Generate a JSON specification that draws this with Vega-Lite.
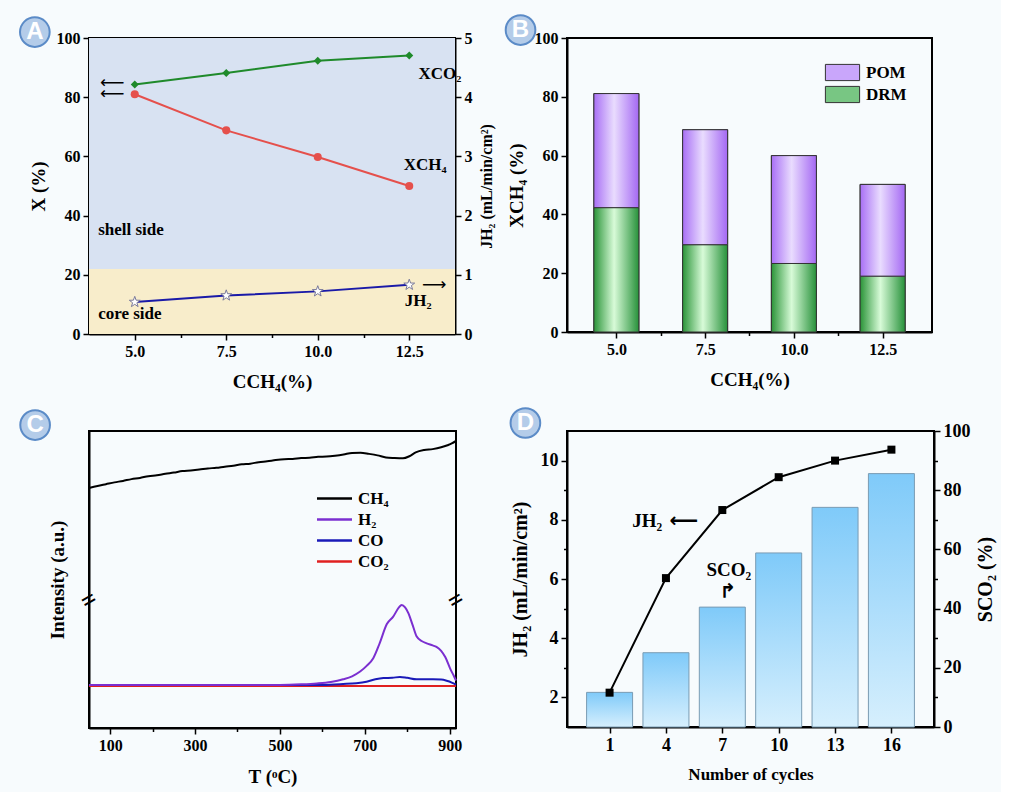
{
  "$schema": "https://vega.github.io/schema/vega-lite/v6.json",
  "background": "#f7fbfd",
  "padding": {"left": 14, "top": 10, "right": 5, "bottom": 5},
  "config": {
    "font": "Liberation Serif",
    "view": {"stroke": "black", "strokeWidth": 2},
    "axis": {
      "grid": false,
      "domainColor": "black",
      "domainWidth": 2,
      "tickColor": "black",
      "tickWidth": 1.5,
      "labelOverlap": false,
      "labelFont": "Liberation Serif",
      "labelFontWeight": "bold",
      "labelFontSize": 16,
      "labelColor": "black",
      "labelPadding": 3,
      "titleFont": "Liberation Serif",
      "titleFontWeight": "bold",
      "titleFontSize": 19,
      "titleColor": "black"
    },
    "legend": {
      "labelFont": "Liberation Serif",
      "labelFontWeight": "bold",
      "labelFontSize": 17,
      "labelColor": "black"
    }
  },
  "datasets": {
    "a_x": [
      {"c": 5, "s": "XCO₂", "v": 84.3},
      {"c": 7.5, "s": "XCO₂", "v": 88.2},
      {"c": 10, "s": "XCO₂", "v": 92.3},
      {"c": 12.5, "s": "XCO₂", "v": 94.1},
      {"c": 5, "s": "XCH₄", "v": 81.0},
      {"c": 7.5, "s": "XCH₄", "v": 68.8},
      {"c": 10, "s": "XCH₄", "v": 59.8},
      {"c": 12.5, "s": "XCH₄", "v": 50.0}
    ],
    "a_j": [
      {"c": 5, "v": 0.54},
      {"c": 7.5, "v": 0.65},
      {"c": 10, "v": 0.72},
      {"c": 12.5, "v": 0.83}
    ],
    "a_text": [
      {"x": 12.75, "y": 88, "t": "XCO₂"},
      {"x": 12.35, "y": 57, "t": "XCH₄"},
      {"x": 12.38, "y": 11.3, "t": "JH₂"},
      {"x": 4.0, "y": 35, "t": "shell side"},
      {"x": 4.0, "y": 6.8, "t": "core side"}
    ],
    "a_arrows": [
      {"x": 12.85, "y": 16.4, "t": "⟶"},
      {"x": 4.05, "y": 84.8, "t": "⟵"},
      {"x": 4.05, "y": 81.2, "t": "⟵"}
    ],
    "b": [
      {"c": 5, "m": "DRM", "v": 42.3},
      {"c": 7.5, "m": "DRM", "v": 29.7},
      {"c": 10, "m": "DRM", "v": 23.3},
      {"c": 12.5, "m": "DRM", "v": 19.0},
      {"c": 5, "m": "POM", "v": 38.8},
      {"c": 7.5, "m": "POM", "v": 39.1},
      {"c": 10, "m": "POM", "v": 36.7},
      {"c": 12.5, "m": "POM", "v": 31.2}
    ],
    "c": [
      {"T": 50, "g": "CH₄", "v": 80.8}, {"T": 70, "g": "CH₄", "v": 81.5}, {"T": 90, "g": "CH₄", "v": 82.1},
      {"T": 110, "g": "CH₄", "v": 82.7}, {"T": 130, "g": "CH₄", "v": 83.2}, {"T": 150, "g": "CH₄", "v": 83.8},
      {"T": 170, "g": "CH₄", "v": 84.2}, {"T": 190, "g": "CH₄", "v": 84.8}, {"T": 210, "g": "CH₄", "v": 85.1},
      {"T": 230, "g": "CH₄", "v": 85.6}, {"T": 250, "g": "CH₄", "v": 86.0}, {"T": 270, "g": "CH₄", "v": 86.5},
      {"T": 290, "g": "CH₄", "v": 86.7}, {"T": 310, "g": "CH₄", "v": 87.0}, {"T": 330, "g": "CH₄", "v": 87.4},
      {"T": 350, "g": "CH₄", "v": 87.6}, {"T": 370, "g": "CH₄", "v": 88.0}, {"T": 390, "g": "CH₄", "v": 88.3},
      {"T": 410, "g": "CH₄", "v": 88.8}, {"T": 430, "g": "CH₄", "v": 89.0}, {"T": 450, "g": "CH₄", "v": 89.5},
      {"T": 470, "g": "CH₄", "v": 89.8}, {"T": 490, "g": "CH₄", "v": 90.2}, {"T": 510, "g": "CH₄", "v": 90.5},
      {"T": 530, "g": "CH₄", "v": 90.6}, {"T": 550, "g": "CH₄", "v": 90.9}, {"T": 570, "g": "CH₄", "v": 91.0},
      {"T": 590, "g": "CH₄", "v": 91.3}, {"T": 610, "g": "CH₄", "v": 91.4}, {"T": 630, "g": "CH₄", "v": 91.7},
      {"T": 650, "g": "CH₄", "v": 92.1}, {"T": 670, "g": "CH₄", "v": 92.6}, {"T": 690, "g": "CH₄", "v": 92.7},
      {"T": 710, "g": "CH₄", "v": 92.3}, {"T": 730, "g": "CH₄", "v": 91.8}, {"T": 750, "g": "CH₄", "v": 91.1},
      {"T": 770, "g": "CH₄", "v": 90.9}, {"T": 790, "g": "CH₄", "v": 90.8}, {"T": 805, "g": "CH₄", "v": 91.5},
      {"T": 820, "g": "CH₄", "v": 92.8}, {"T": 840, "g": "CH₄", "v": 93.6}, {"T": 860, "g": "CH₄", "v": 93.9},
      {"T": 880, "g": "CH₄", "v": 94.5}, {"T": 895, "g": "CH₄", "v": 95.2}, {"T": 905, "g": "CH₄", "v": 95.8},
      {"T": 915, "g": "CH₄", "v": 96.7},
      {"T": 50, "g": "CO₂", "v": 14.1}, {"T": 915, "g": "CO₂", "v": 14.1},
      {"T": 50, "g": "CO", "v": 14.5}, {"T": 600, "g": "CO", "v": 14.5}, {"T": 649, "g": "CO", "v": 14.8},
      {"T": 680, "g": "CO", "v": 15.1}, {"T": 704, "g": "CO", "v": 15.6}, {"T": 725, "g": "CO", "v": 16.4},
      {"T": 744, "g": "CO", "v": 16.8}, {"T": 765, "g": "CO", "v": 16.9}, {"T": 783, "g": "CO", "v": 17.2},
      {"T": 800, "g": "CO", "v": 16.9}, {"T": 822, "g": "CO", "v": 16.4}, {"T": 861, "g": "CO", "v": 16.4},
      {"T": 880, "g": "CO", "v": 16.3}, {"T": 893, "g": "CO", "v": 15.9}, {"T": 905, "g": "CO", "v": 15.3},
      {"T": 915, "g": "CO", "v": 14.6},
      {"T": 50, "g": "H₂", "v": 14.5}, {"T": 500, "g": "H₂", "v": 14.5}, {"T": 550, "g": "H₂", "v": 14.7},
      {"T": 587, "g": "H₂", "v": 15.0}, {"T": 620, "g": "H₂", "v": 15.5}, {"T": 649, "g": "H₂", "v": 16.4},
      {"T": 670, "g": "H₂", "v": 17.4}, {"T": 689, "g": "H₂", "v": 19.0}, {"T": 705, "g": "H₂", "v": 21.0},
      {"T": 720, "g": "H₂", "v": 23.5}, {"T": 735, "g": "H₂", "v": 28.5}, {"T": 752, "g": "H₂", "v": 35.0},
      {"T": 767, "g": "H₂", "v": 37.5}, {"T": 780, "g": "H₂", "v": 40.5}, {"T": 787, "g": "H₂", "v": 41.4},
      {"T": 795, "g": "H₂", "v": 40.6}, {"T": 803, "g": "H₂", "v": 38.6}, {"T": 812, "g": "H₂", "v": 35.0},
      {"T": 822, "g": "H₂", "v": 30.9}, {"T": 835, "g": "H₂", "v": 29.2}, {"T": 846, "g": "H₂", "v": 28.5},
      {"T": 860, "g": "H₂", "v": 27.8}, {"T": 869, "g": "H₂", "v": 27.3}, {"T": 880, "g": "H₂", "v": 26.0},
      {"T": 890, "g": "H₂", "v": 23.8}, {"T": 901, "g": "H₂", "v": 20.1}, {"T": 910, "g": "H₂", "v": 17.5},
      {"T": 915, "g": "H₂", "v": 16.0}
    ],
    "d": [
      {"n": 1, "jh2": 2.16, "sco2": 11.7},
      {"n": 4, "jh2": 6.03, "sco2": 25.1},
      {"n": 7, "jh2": 8.33, "sco2": 40.5},
      {"n": 10, "jh2": 9.44, "sco2": 58.8},
      {"n": 13, "jh2": 10.0, "sco2": 74.2},
      {"n": 16, "jh2": 10.37, "sco2": 85.6}
    ],
    "d_text": [
      {"x": 3.0, "y": 7.95, "t": "JH₂"},
      {"x": 7.35, "y": 6.3, "t": "SCO₂"}
    ],
    "d_arrows": [
      {"x": 4.95, "y": 7.97, "t": "⟵"},
      {"x": 7.3, "y": 5.55, "t": "↱"}
    ]
  },
  "bounds": "flush",
  "columns": 2,
  "spacing": {"row": 97, "column": 111},
  "resolve": {
    "scale": {"color": "independent", "shape": "independent"},
    "legend": {"color": "independent"}
  },
  "concat": [
    {
      "width": 366,
      "height": 296,
      "layer": [
        {
          "layer": [
            {
              "data": {"values": [{}]},
              "mark": {"type": "rect", "fill": "#d8e2f2"},
              "encoding": {
                "x": {
                  "datum": 3.75, "type": "quantitative",
                  "scale": {"domain": [3.75, 13.75], "nice": false, "zero": false},
                  "axis": {
                    "title": "CCH₄(%)", "titlePadding": 13,
                    "values": [5, 6.25, 7.5, 8.75, 10, 11.25, 12.5],
                    "labelExpr": "datum.value % 2.5 === 0 ? format(datum.value, '.1f') : ''",
                    "tickSize": {"condition": {"test": "datum.value % 2.5 !== 0", "value": 3.5}, "value": 6}
                  }
                },
                "x2": {"datum": 13.75},
                "y": {
                  "datum": 22, "type": "quantitative",
                  "scale": {"domain": [0, 100], "nice": false},
                  "axis": {
                    "title": "X (%)", "titlePadding": 8,
                    "values": [0, 10, 20, 30, 40, 50, 60, 70, 80, 90, 100],
                    "labelExpr": "datum.value % 20 === 0 ? datum.label : ''",
                    "tickSize": {"condition": {"test": "datum.value % 20 !== 0", "value": 3.5}, "value": 6}
                  }
                },
                "y2": {"datum": 100}
              }
            },
            {
              "data": {"values": [{}]},
              "mark": {"type": "rect", "fill": "#f8edcb"},
              "encoding": {
                "x": {"datum": 3.75, "type": "quantitative"},
                "x2": {"datum": 13.75},
                "y": {"datum": 0, "type": "quantitative"},
                "y2": {"datum": 22}
              }
            },
            {
              "data": {"name": "a_x"},
              "mark": {"type": "line", "strokeWidth": 2},
              "encoding": {
                "x": {"field": "c", "type": "quantitative"},
                "y": {"field": "v", "type": "quantitative"},
                "color": {
                  "field": "s", "type": "nominal", "legend": null,
                  "scale": {"domain": ["XCO₂", "XCH₄"], "range": ["#1f8a2b", "#e5504c"]}
                }
              }
            },
            {
              "data": {"name": "a_x"},
              "mark": {"type": "point", "filled": true, "opacity": 1, "size": 65},
              "encoding": {
                "x": {"field": "c", "type": "quantitative"},
                "y": {"field": "v", "type": "quantitative"},
                "color": {"field": "s", "type": "nominal", "legend": null},
                "shape": {
                  "field": "s", "type": "nominal", "legend": null,
                  "scale": {"domain": ["XCO₂", "XCH₄"], "range": ["diamond", "circle"]}
                }
              }
            },
            {
              "data": {"name": "a_text"},
              "mark": {"type": "text", "align": "left", "baseline": "middle", "fontSize": 17, "fontWeight": "bold", "color": "black"},
              "encoding": {
                "x": {"field": "x", "type": "quantitative"},
                "y": {"field": "y", "type": "quantitative"},
                "text": {"field": "t"}
              }
            },
            {
              "data": {"name": "a_arrows"},
              "mark": {"type": "text", "align": "left", "baseline": "middle", "font": "DejaVu Sans", "fontSize": 17, "color": "black"},
              "encoding": {
                "x": {"field": "x", "type": "quantitative"},
                "y": {"field": "y", "type": "quantitative"},
                "text": {"field": "t"}
              }
            },
            {
              "data": {"values": [{}]},
              "mark": {"type": "point", "shape": "circle", "filled": true, "size": 880, "opacity": 1, "fill": "#b4cce9", "stroke": "#5b8bc7", "strokeWidth": 2},
              "encoding": {
                "x": {"datum": 2.27, "type": "quantitative"},
                "y": {"datum": 102, "type": "quantitative"}
              }
            },
            {
              "data": {"values": [{}]},
              "mark": {"type": "text", "text": "A", "font": "Liberation Sans", "fontWeight": "bold", "fontSize": 24, "color": "white", "baseline": "middle", "align": "center"},
              "encoding": {
                "x": {"datum": 2.27, "type": "quantitative"},
                "y": {"datum": 102, "type": "quantitative"}
              }
            }
          ]
        },
        {
          "data": {"name": "a_j"},
          "layer": [
            {
              "mark": {"type": "line", "strokeWidth": 2, "color": "#1a1aa8"},
              "encoding": {
                "x": {"field": "c", "type": "quantitative"},
                "y": {
                  "field": "v", "type": "quantitative",
                  "scale": {"domain": [0, 5], "nice": false},
                  "axis": {
                    "orient": "right", "title": "JH₂ (mL/min/cm²)", "titleFontSize": 16, "titleAngle": 270, "titleBaseline": "top", "titlePadding": 6,
                    "values": [0, 0.5, 1, 1.5, 2, 2.5, 3, 3.5, 4, 4.5, 5],
                    "labelExpr": "datum.value % 1 === 0 ? format(datum.value, 'd') : ''",
                    "tickSize": {"condition": {"test": "datum.value % 1 !== 0", "value": 3.5}, "value": 6}
                  }
                }
              }
            },
            {
              "mark": {"type": "point", "shape": "M0,-1L0.235,-0.324L0.951,-0.309L0.38,0.124L0.588,0.809L0,0.4L-0.588,0.809L-0.38,0.124L-0.951,-0.309L-0.235,-0.324Z", "filled": true, "fill": "white", "stroke": "#7a7a9a", "strokeWidth": 1, "size": 130, "opacity": 1},
              "encoding": {
                "x": {"field": "c", "type": "quantitative"},
                "y": {"field": "v", "type": "quantitative"}
              }
            }
          ]
        }
      ],
      "resolve": {"scale": {"y": "independent"}}
    },
    {
      "width": 365,
      "height": 294,
      "data": {"name": "b"},
      "layer": [
        {
          "mark": {"type": "bar", "width": 45, "stroke": "#333333", "strokeWidth": 1},
          "encoding": {
            "x": {
              "field": "c", "type": "quantitative",
              "scale": {"domain": [3.75, 13.75], "nice": false, "zero": false},
              "axis": {
                "title": "CCH₄(%)", "titlePadding": 13,
                "values": [5, 6.25, 7.5, 8.75, 10, 11.25, 12.5],
                "labelExpr": "datum.value % 2.5 === 0 ? format(datum.value, '.1f') : ''",
                "tickSize": {"condition": {"test": "datum.value % 2.5 !== 0", "value": 3.5}, "value": 6}
              }
            },
            "y": {
              "field": "v", "type": "quantitative", "stack": "zero",
              "scale": {"domain": [0, 100], "nice": false},
              "axis": {
                "title": "XCH₄ (%)", "titlePadding": 8,
                "values": [0, 10, 20, 30, 40, 50, 60, 70, 80, 90, 100],
                "labelExpr": "datum.value % 20 === 0 ? datum.label : ''",
                "tickSize": {"condition": {"test": "datum.value % 20 !== 0", "value": 3.5}, "value": 6}
              }
            },
            "color": {
              "field": "m", "type": "nominal",
              "scale": {"domain": ["POM", "DRM"], "range": ["#c9a6fb", "#78c683"]},
              "legend": {
                "orient": "none", "legendX": 266, "legendY": 25, "title": null,
                "symbolType": "M-1.9,-0.9H1.9V0.9H-1.9Z", "symbolSize": 324,
                "symbolStrokeColor": "#333333", "symbolStrokeWidth": 1, "symbolOpacity": 1,
                "rowPadding": 1, "labelOffset": 14
              }
            },
            "order": {"field": "m", "sort": "ascending"}
          }
        },
        {
          "mark": {"type": "bar", "width": 45, "stroke": "#333333", "strokeWidth": 1},
          "encoding": {
            "x": {"field": "c", "type": "quantitative"},
            "y": {"field": "v", "type": "quantitative", "stack": "zero"},
            "color": {
              "condition": {
                "test": "datum.m === 'POM'",
                "value": {"gradient": "linear", "x1": 0, "y1": 0, "x2": 1, "y2": 0, "stops": [{"offset": 0, "color": "#a86ff5"}, {"offset": 0.45, "color": "#e9dcfe"}, {"offset": 1, "color": "#a468f3"}]}
              },
              "value": {"gradient": "linear", "x1": 0, "y1": 0, "x2": 1, "y2": 0, "stops": [{"offset": 0, "color": "#2a9438"}, {"offset": 0.45, "color": "#d8fbd8"}, {"offset": 1, "color": "#27913a"}]}
            },
            "order": {"field": "m", "sort": "ascending"}
          }
        },
        {
          "data": {"values": [{}]},
          "mark": {"type": "point", "shape": "circle", "filled": true, "size": 880, "opacity": 1, "fill": "#b4cce9", "stroke": "#5b8bc7", "strokeWidth": 2},
          "encoding": {
            "x": {"datum": 2.3, "type": "quantitative"},
            "y": {"datum": 102.7, "type": "quantitative"}
          }
        },
        {
          "data": {"values": [{}]},
          "mark": {"type": "text", "text": "B", "font": "Liberation Sans", "fontWeight": "bold", "fontSize": 24, "color": "white", "baseline": "middle", "align": "center"},
          "encoding": {
            "x": {"datum": 2.3, "type": "quantitative"},
            "y": {"datum": 102.7, "type": "quantitative"}
          }
        }
      ]
    },
    {
      "width": 367,
      "height": 297,
      "layer": [
        {
          "data": {"name": "c"},
          "mark": {"type": "line", "strokeWidth": 2, "interpolate": "monotone"},
          "encoding": {
            "x": {
              "field": "T", "type": "quantitative",
              "scale": {"domain": [50, 915], "nice": false, "zero": false},
              "axis": {
                "title": "T (ᵒC)", "titlePadding": 14,
                "values": [100, 200, 300, 400, 500, 600, 700, 800, 900],
                "labelExpr": "datum.value % 200 !== 0 ? datum.label : ''",
                "tickSize": {"condition": {"test": "datum.value % 200 === 0", "value": 3.5}, "value": 6}
              }
            },
            "y": {
              "field": "v", "type": "quantitative",
              "scale": {"domain": [0, 100], "nice": false},
              "axis": {"title": "Intensity (a.u.)", "labels": false, "ticks": false, "titlePadding": 22}
            },
            "color": {
              "field": "g", "type": "nominal",
              "scale": {"domain": ["CH₄", "H₂", "CO", "CO₂"], "range": ["#000000", "#7b2fd0", "#1a1ab8", "#e02020"]},
              "legend": {
                "orient": "none", "legendX": 234, "legendY": 56, "title": null,
                "symbolType": "M-1.75,0H1.75", "symbolSize": 400, "symbolStrokeWidth": 2.5,
                "rowPadding": 1, "labelOffset": 12
              }
            }
          }
        },
        {
          "data": {"values": [{}]},
          "mark": {"type": "text", "text": "=", "fontSize": 26, "fontWeight": "bold", "angle": 330, "color": "black", "baseline": "middle", "align": "center"},
          "encoding": {
            "x": {"datum": 50, "type": "quantitative"},
            "y": {"datum": 43, "type": "quantitative"}
          }
        },
        {
          "data": {"values": [{}]},
          "mark": {"type": "text", "text": "=", "fontSize": 26, "fontWeight": "bold", "angle": 330, "color": "black", "baseline": "middle", "align": "center"},
          "encoding": {
            "x": {"datum": 915, "type": "quantitative"},
            "y": {"datum": 43, "type": "quantitative"}
          }
        },
        {
          "data": {"values": [{}]},
          "mark": {"type": "point", "shape": "circle", "filled": true, "size": 880, "opacity": 1, "fill": "#b4cce9", "stroke": "#5b8bc7", "strokeWidth": 2},
          "encoding": {
            "x": {"datum": -77, "type": "quantitative"},
            "y": {"datum": 102, "type": "quantitative"}
          }
        },
        {
          "data": {"values": [{}]},
          "mark": {"type": "text", "text": "C", "font": "Liberation Sans", "fontWeight": "bold", "fontSize": 24, "color": "white", "baseline": "middle", "align": "center"},
          "encoding": {
            "x": {"datum": -77, "type": "quantitative"},
            "y": {"datum": 102, "type": "quantitative"}
          }
        }
      ]
    },
    {
      "width": 367,
      "height": 296,
      "layer": [
        {
          "data": {"name": "d"},
          "mark": {"type": "bar", "width": 46, "stroke": "#7a9cb3", "strokeWidth": 1},
          "encoding": {
            "x": {
              "field": "n", "type": "quantitative",
              "scale": {"domain": [-1, 18], "nice": false, "zero": false},
              "axis": {
                "title": "Number of cycles", "titleFontSize": 17, "labelFontSize": 18, "titlePadding": 12,
                "values": [1, 4, 7, 10, 13, 16], "format": "d", "tickSize": 6
              }
            },
            "y": {
              "field": "sco2", "type": "quantitative",
              "scale": {"domain": [0, 100], "nice": false},
              "axis": {
                "orient": "right", "title": "SCO₂ (%)", "titleAngle": 270, "titleBaseline": "top", "labelFontSize": 18, "titleFontSize": 20, "titlePadding": 5,
                "values": [0, 10, 20, 30, 40, 50, 60, 70, 80, 90, 100],
                "labelExpr": "datum.value % 20 === 0 ? datum.label : ''",
                "tickSize": {"condition": {"test": "datum.value % 20 !== 0", "value": 3.5}, "value": 6}
              }
            },
            "color": {"value": {"gradient": "linear", "x1": 0, "y1": 0, "x2": 0, "y2": 1, "stops": [{"offset": 0, "color": "#7fcaf9"}, {"offset": 1, "color": "#d6effd"}]}}
          }
        },
        {
          "data": {"values": [{}]},
          "mark": {"type": "rule", "color": "black", "strokeWidth": 2},
          "encoding": {
            "x": {"datum": -1, "type": "quantitative"},
            "x2": {"datum": 18},
            "y": {"datum": 100, "type": "quantitative", "scale": {"domain": [0, 100], "nice": false}, "axis": null}
          }
        },
        {
          "data": {"values": [{}]},
          "mark": {"type": "point", "shape": "circle", "filled": true, "size": 880, "opacity": 1, "fill": "#b4cce9", "stroke": "#5b8bc7", "strokeWidth": 2},
          "encoding": {
            "x": {"datum": -3.48, "type": "quantitative"},
            "y": {"datum": 102.7, "type": "quantitative", "scale": {"domain": [0, 100], "nice": false}, "axis": null}
          }
        },
        {
          "data": {"values": [{}]},
          "mark": {"type": "text", "text": "D", "font": "Liberation Sans", "fontWeight": "bold", "fontSize": 24, "color": "white", "baseline": "middle", "align": "center"},
          "encoding": {
            "x": {"datum": -3.48, "type": "quantitative"},
            "y": {"datum": 102.7, "type": "quantitative", "scale": {"domain": [0, 100], "nice": false}, "axis": null}
          }
        },
        {
          "data": {"name": "d"},
          "mark": {"type": "line", "strokeWidth": 2, "color": "black"},
          "encoding": {
            "x": {"field": "n", "type": "quantitative"},
            "y": {
              "field": "jh2", "type": "quantitative",
              "scale": {"domain": [1, 11], "nice": false, "zero": false},
              "axis": {
                "orient": "left", "title": "JH₂ (mL/min/cm²)", "labelFontSize": 18, "titleFontSize": 20, "titlePadding": 10,
                "values": [2, 3, 4, 5, 6, 7, 8, 9, 10],
                "labelExpr": "datum.value % 2 === 0 ? datum.label : ''",
                "tickSize": {"condition": {"test": "datum.value % 2 !== 0", "value": 3.5}, "value": 6}
              }
            }
          }
        },
        {
          "data": {"name": "d"},
          "mark": {"type": "point", "shape": "square", "filled": true, "size": 64, "opacity": 1, "color": "black"},
          "encoding": {
            "x": {"field": "n", "type": "quantitative"},
            "y": {"field": "jh2", "type": "quantitative", "scale": {"domain": [1, 11], "nice": false, "zero": false}, "axis": null}
          }
        },
        {
          "data": {"name": "d_text"},
          "mark": {"type": "text", "align": "center", "baseline": "middle", "fontSize": 19, "fontWeight": "bold", "color": "black"},
          "encoding": {
            "x": {"field": "x", "type": "quantitative"},
            "y": {"field": "y", "type": "quantitative", "scale": {"domain": [1, 11], "nice": false, "zero": false}, "axis": null},
            "text": {"field": "t"}
          }
        },
        {
          "data": {"name": "d_arrows"},
          "mark": {"type": "text", "align": "center", "baseline": "middle", "font": "DejaVu Sans", "fontSize": 20, "fontWeight": "bold", "color": "black"},
          "encoding": {
            "x": {"field": "x", "type": "quantitative"},
            "y": {"field": "y", "type": "quantitative", "scale": {"domain": [1, 11], "nice": false, "zero": false}, "axis": null},
            "text": {"field": "t"}
          }
        }
      ],
      "resolve": {"scale": {"y": "independent"}}
    }
  ]
}
